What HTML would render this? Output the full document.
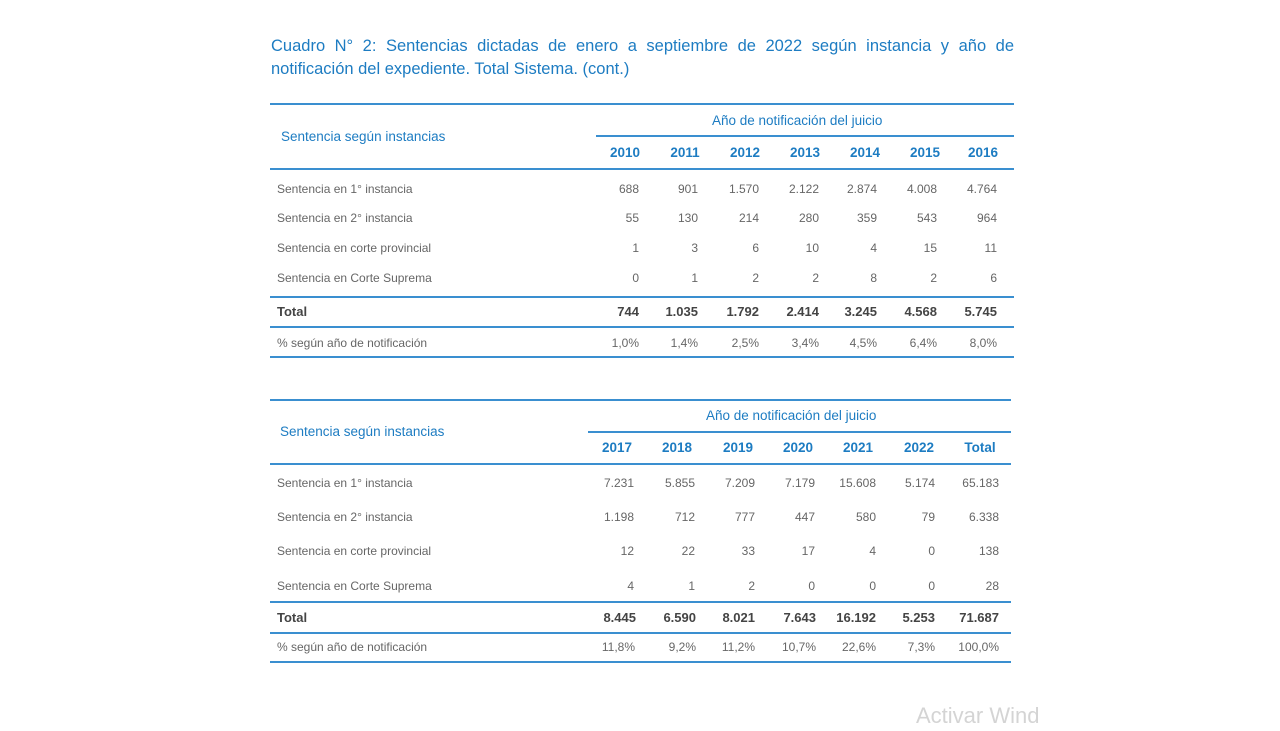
<!DOCTYPE html>
<html><head><meta charset="utf-8"><style>
body{margin:0;width:1280px;height:720px;background:#fff;position:relative;overflow:hidden;font-family:"Liberation Sans",sans-serif;}
div{position:absolute;white-space:nowrap;}
.t{left:271px;width:743px;color:#1d7cc2;font-size:16.5px;line-height:22px;}
.h{height:2px;background:#3a8fd0;}
.lbl{color:#666;font-size:12px;line-height:16px;left:277px;}
.lb{color:#1d7cc2;font-size:13.5px;line-height:16px;left:281px;}
.y{color:#1d7cc2;font-size:13.5px;font-weight:bold;width:60px;text-align:center;line-height:16px;}
.n{color:#666;font-size:12px;width:60px;text-align:right;line-height:16px;}
.b{color:#444;font-weight:bold;font-size:13px;}
.g{color:#1d7cc2;font-size:13.5px;line-height:16px;}
</style></head><body>
<div class="t" style="top:35px;text-align:justify;text-align-last:justify;">Cuadro N° 2: Sentencias dictadas de enero a septiembre de 2022 según instancia y año de</div>
<div class="t" style="top:58px;">notificación del expediente. Total Sistema. (cont.)</div>

<!-- Table 1 -->
<div class="h" style="top:103px;left:270px;width:744px;"></div>
<div class="lb" style="top:129px;">Sentencia según instancias</div>
<div class="g" style="top:113px;left:712px;">Año de notificación del juicio</div>
<div class="h" style="top:135px;left:596px;width:418px;"></div>
<div class="y" style="top:145px;left:595px">2010</div><div class="y" style="top:145px;left:655px">2011</div><div class="y" style="top:145px;left:715px">2012</div><div class="y" style="top:145px;left:775px">2013</div><div class="y" style="top:145px;left:835px">2014</div><div class="y" style="top:145px;left:895px">2015</div><div class="y" style="top:145px;left:953px">2016</div>
<div class="h" style="top:168px;left:270px;width:744px;"></div>
<div class="lbl" style="top:181px">Sentencia en 1° instancia</div>
<div class="lbl" style="top:210px">Sentencia en 2° instancia</div>
<div class="lbl" style="top:240px">Sentencia en corte provincial</div>
<div class="lbl" style="top:270px">Sentencia en Corte Suprema</div>
<div class="n" style="top:181px;left:579px">688</div><div class="n" style="top:181px;left:638px">901</div><div class="n" style="top:181px;left:699px">1.570</div><div class="n" style="top:181px;left:759px">2.122</div><div class="n" style="top:181px;left:817px">2.874</div><div class="n" style="top:181px;left:877px">4.008</div><div class="n" style="top:181px;left:937px">4.764</div>
<div class="n" style="top:210px;left:579px">55</div><div class="n" style="top:210px;left:638px">130</div><div class="n" style="top:210px;left:699px">214</div><div class="n" style="top:210px;left:759px">280</div><div class="n" style="top:210px;left:817px">359</div><div class="n" style="top:210px;left:877px">543</div><div class="n" style="top:210px;left:937px">964</div>
<div class="n" style="top:240px;left:579px">1</div><div class="n" style="top:240px;left:638px">3</div><div class="n" style="top:240px;left:699px">6</div><div class="n" style="top:240px;left:759px">10</div><div class="n" style="top:240px;left:817px">4</div><div class="n" style="top:240px;left:877px">15</div><div class="n" style="top:240px;left:937px">11</div>
<div class="n" style="top:270px;left:579px">0</div><div class="n" style="top:270px;left:638px">1</div><div class="n" style="top:270px;left:699px">2</div><div class="n" style="top:270px;left:759px">2</div><div class="n" style="top:270px;left:817px">8</div><div class="n" style="top:270px;left:877px">2</div><div class="n" style="top:270px;left:937px">6</div>
<div class="h" style="top:296px;left:270px;width:744px;"></div>
<div class="lbl b" style="top:304px">Total</div>
<div class="n b" style="top:304px;left:579px">744</div><div class="n b" style="top:304px;left:638px">1.035</div><div class="n b" style="top:304px;left:699px">1.792</div><div class="n b" style="top:304px;left:759px">2.414</div><div class="n b" style="top:304px;left:817px">3.245</div><div class="n b" style="top:304px;left:877px">4.568</div><div class="n b" style="top:304px;left:937px">5.745</div>
<div class="h" style="top:326px;left:270px;width:744px;"></div>
<div class="lbl" style="top:335px">% según año de notificación</div>
<div class="n" style="top:335px;left:579px">1,0%</div><div class="n" style="top:335px;left:638px">1,4%</div><div class="n" style="top:335px;left:699px">2,5%</div><div class="n" style="top:335px;left:759px">3,4%</div><div class="n" style="top:335px;left:817px">4,5%</div><div class="n" style="top:335px;left:877px">6,4%</div><div class="n" style="top:335px;left:937px">8,0%</div>
<div class="h" style="top:356px;left:270px;width:744px;"></div>

<!-- Table 2 -->
<div class="h" style="top:399px;left:270px;width:741px;"></div>
<div class="lb" style="top:424px;left:280px">Sentencia según instancias</div>
<div class="g" style="top:408px;left:706px;">Año de notificación del juicio</div>
<div class="h" style="top:431px;left:588px;width:423px;"></div>
<div class="y" style="top:440px;left:587px">2017</div><div class="y" style="top:440px;left:647px">2018</div><div class="y" style="top:440px;left:708px">2019</div><div class="y" style="top:440px;left:768px">2020</div><div class="y" style="top:440px;left:828px">2021</div><div class="y" style="top:440px;left:889px">2022</div><div class="y" style="top:440px;left:950px">Total</div>
<div class="h" style="top:463px;left:270px;width:741px;"></div>
<div class="lbl" style="top:475px">Sentencia en 1° instancia</div>
<div class="lbl" style="top:509px">Sentencia en 2° instancia</div>
<div class="lbl" style="top:543px">Sentencia en corte provincial</div>
<div class="lbl" style="top:578px">Sentencia en Corte Suprema</div>
<div class="n" style="top:475px;left:574px">7.231</div><div class="n" style="top:475px;left:635px">5.855</div><div class="n" style="top:475px;left:695px">7.209</div><div class="n" style="top:475px;left:755px">7.179</div><div class="n" style="top:475px;left:816px">15.608</div><div class="n" style="top:475px;left:875px">5.174</div><div class="n" style="top:475px;left:939px">65.183</div>
<div class="n" style="top:509px;left:574px">1.198</div><div class="n" style="top:509px;left:635px">712</div><div class="n" style="top:509px;left:695px">777</div><div class="n" style="top:509px;left:755px">447</div><div class="n" style="top:509px;left:816px">580</div><div class="n" style="top:509px;left:875px">79</div><div class="n" style="top:509px;left:939px">6.338</div>
<div class="n" style="top:543px;left:574px">12</div><div class="n" style="top:543px;left:635px">22</div><div class="n" style="top:543px;left:695px">33</div><div class="n" style="top:543px;left:755px">17</div><div class="n" style="top:543px;left:816px">4</div><div class="n" style="top:543px;left:875px">0</div><div class="n" style="top:543px;left:939px">138</div>
<div class="n" style="top:578px;left:574px">4</div><div class="n" style="top:578px;left:635px">1</div><div class="n" style="top:578px;left:695px">2</div><div class="n" style="top:578px;left:755px">0</div><div class="n" style="top:578px;left:816px">0</div><div class="n" style="top:578px;left:875px">0</div><div class="n" style="top:578px;left:939px">28</div>
<div class="h" style="top:601px;left:270px;width:741px;"></div>
<div class="lbl b" style="top:610px">Total</div>
<div class="n b" style="top:610px;left:576px">8.445</div><div class="n b" style="top:610px;left:636px">6.590</div><div class="n b" style="top:610px;left:695px">8.021</div><div class="n b" style="top:610px;left:756px">7.643</div><div class="n b" style="top:610px;left:816px">16.192</div><div class="n b" style="top:610px;left:875px">5.253</div><div class="n b" style="top:610px;left:939px">71.687</div>
<div class="h" style="top:632px;left:270px;width:741px;"></div>
<div class="lbl" style="top:639px">% según año de notificación</div>
<div class="n" style="top:639px;left:575px">11,8%</div><div class="n" style="top:639px;left:636px">9,2%</div><div class="n" style="top:639px;left:695px">11,2%</div><div class="n" style="top:639px;left:756px">10,7%</div><div class="n" style="top:639px;left:816px">22,6%</div><div class="n" style="top:639px;left:875px">7,3%</div><div class="n" style="top:639px;left:939px">100,0%</div>
<div class="h" style="top:661px;left:270px;width:741px;"></div>
<div style="top:701px;left:916px;color:#d4d4d4;font-size:22px;line-height:30px;">Activar Wind</div>
</body></html>
